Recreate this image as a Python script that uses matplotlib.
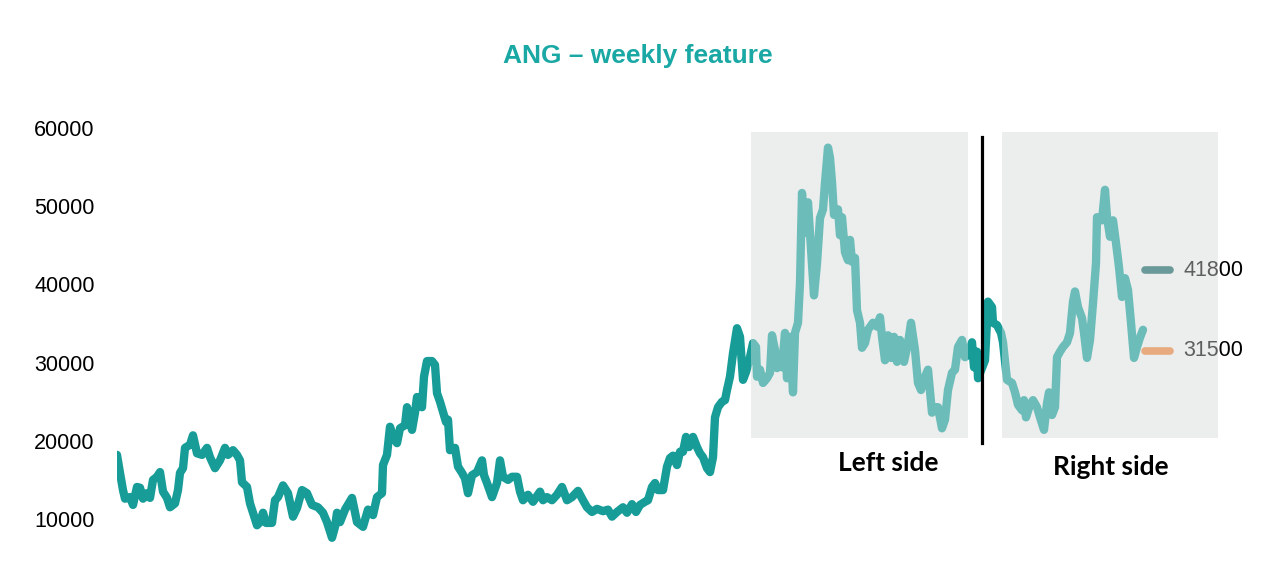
import matplotlib
matplotlib.use("Agg")
import matplotlib.pyplot as plt
from matplotlib.patches import Rectangle

# weekly series (week index, value)
weeks = [0, 3, 6, 8, 13, 16, 20, 23, 26, 30, 33, 36, 40, 43, 46, 50, 53, 58, 61, 63,
         66, 68, 73, 76, 80, 85, 90, 93, 98, 103, 108, 111, 116, 120, 123, 125, 130, 133, 136, 140,
         143, 146, 149, 155, 158, 161, 166, 171, 176, 180, 185, 190, 195, 201, 206, 210, 215, 218, 220, 223,
         228, 235, 240, 246, 251, 256, 260, 265, 266, 270, 273, 276, 280, 283, 288, 290, 295, 298, 300, 305,
         307, 310, 315, 318, 320, 323, 326, 329, 331, 333, 338, 341, 345, 348, 351, 355, 360, 365, 367, 370,
         375, 380, 383, 386, 391, 395, 400, 403, 406, 411, 416, 423, 426, 430, 435, 440, 445, 450, 455, 461,
         466, 470, 475, 480, 486, 491, 495, 500, 506, 510, 515, 519, 523, 528, 531, 535, 538, 541, 546, 550,
         553, 556, 560, 563, 566, 569, 572, 576, 580, 583, 586, 590, 593, 596, 598, 601, 605, 608, 610, 613,
         616, 620, 623, 626, 629, 633, 636, 639, 640, 643, 646, 650, 653, 655, 658, 660, 663, 665, 668, 670,
         673, 676, 678, 681, 683, 685, 688, 691, 695, 697, 700, 703, 706, 708, 711, 713, 715, 717, 721, 723,
         725, 728, 731, 733, 735, 738, 740, 743, 745, 748, 751, 756, 760, 763, 765, 768, 771, 774, 777, 780,
         783, 787, 791, 794, 798, 801, 804, 808, 811, 815, 818, 821, 825, 828, 831, 835, 838, 841, 845, 848,
         851, 855, 857, 860, 861, 865, 868, 871, 875, 876, 880, 884, 886, 890, 895, 898, 901, 905, 907, 909,
         913, 916, 920, 923, 927, 930, 932, 935, 938, 940, 943, 946, 950, 953, 956, 958, 961, 965, 967, 970,
         973, 976, 979, 980, 985, 988, 990, 993, 996, 999, 1002, 1005, 1008, 1011, 1014, 1017, 1020, 1023, 1026]
values = [18200, 15900, 13700, 12600, 12800, 11800, 14100, 14000, 12600, 13300, 12700, 15000, 15400, 16000, 13500, 12700, 11500, 12000, 13700, 15900,
          16500, 19100, 19500, 20700, 18400, 18200, 19100, 17900, 16500, 17500, 19100, 18200, 18800, 18200, 17500, 14700, 14100, 12000, 10800, 9200,
          9600, 10800, 9500, 9500, 12400, 12800, 14300, 13300, 10300, 11400, 13700, 13300, 11800, 11500, 10800, 9600, 7600, 9000, 10800, 9600,
          11200, 12700, 9600, 9000, 11200, 10500, 12800, 13300, 16900, 18200, 21800, 20500, 19700, 21600, 22000, 24300, 21400, 23600, 25600, 24300,
          28200, 30200, 30200, 29700, 26100, 25000, 23700, 22400, 22700, 18800, 19100, 16700, 15900, 15200, 13300, 15600, 16000, 17500, 15600, 14600,
          12800, 14600, 17500, 15400, 15000, 15400, 15400, 13500, 12400, 13100, 12200, 13500, 12400, 12800, 12400, 13100, 14100, 12400, 12800, 13600,
          12400, 11500, 10900, 11300, 11000, 11200, 10300, 10900, 11500, 10800, 11900, 10900, 11800, 12200, 12400, 14100, 14600, 13700, 13700, 16700,
          17800, 18100, 16900, 18600, 18600, 20500, 19200, 20500, 19200, 18400, 17900, 16500, 16000, 17900, 23000, 24300, 25000, 25200, 26500, 28200,
          31200, 34400, 33300, 27800, 28800, 30700, 32500, 32000, 28200, 29100, 27400, 28000, 28700, 33500, 31600, 29300, 30300, 29400, 33800, 28000,
          33300, 26200, 33800, 35100, 40200, 51700, 46600, 50500, 42700, 38600, 42700, 48500, 49600, 53000, 57500, 56200, 53100, 48900, 49600, 46300,
          48600, 44100, 43100, 45700, 42900, 43400, 36700, 35100, 31900, 32500, 34200, 35100, 34600, 35800, 33300, 30300, 33500, 30600, 33300, 30100,
          32900, 30100, 32500, 35100, 31600, 27400, 26500, 28200, 29100, 23600, 24300, 24300, 21600, 22700, 26500, 28700, 29100, 32000, 32900, 30700,
          31000, 32600, 29400, 31400, 28000, 29300, 30300, 37800, 37100, 35100, 34800, 33800, 32600, 27800, 27400, 26200, 24600, 23900, 25200, 23000,
          24600, 25200, 24300, 23000, 21400, 24800, 26200, 23300, 24300, 30700, 31400, 32000, 32600, 33800, 37800, 39100, 37100, 35700, 33800, 30600,
          32900, 37600, 42700, 48600, 48200, 52100, 48600, 46100, 48200, 45300, 42200, 38400, 40800, 39300, 35100, 30600, 32000, 33200, 34200]

y_ticks = [10000, 20000, 30000, 40000, 50000, 60000]

# reference levels shown on the right
level_values = [41800, 31500]
level_colors = ["#146262", "#e67d37"]

# highlighted windows (week ranges) and the split line
left_window = (634, 851)
right_window = (885, 1101)
split_week = 865
window_low, window_high = 20400, 59500

teal = "#179c98"
box_gray = "#eceeed"

fig = plt.figure(figsize=(12.8, 5.73), dpi=100)
ax = fig.add_axes([117 / 1280, 28 / 573, 1133 / 1280, 445 / 573])
ax.set_xlim(0, 1133)
ax.set_ylim(6675, 63590)

# gray windows behind the line
for w0, w1 in [left_window, right_window]:
    ax.add_patch(Rectangle((w0, window_low), w1 - w0, window_high - window_low,
                           facecolor=box_gray, edgecolor="none", zorder=0))

ax.plot(weeks, values, color=teal, lw=6, solid_joinstyle="round",
        solid_capstyle="round", zorder=2)

# level markers + labels
for v, c in zip(level_values, level_colors):
    ax.plot([1028, 1053], [v, v], color=c, lw=5.5, solid_capstyle="round", zorder=2)
    ax.text(1066, v, str(v), ha="left", va="center", fontsize=15.5,
            family="Liberation Sans", color="black", zorder=3)

# translucent gray on top, lightens whatever lies inside the windows
for w0, w1 in [left_window, right_window]:
    ax.add_patch(Rectangle((w0, window_low), w1 - w0, window_high - window_low,
                           facecolor=box_gray, edgecolor="none", alpha=0.4, zorder=5))

ax.plot([split_week, split_week], [19700, 58900], color="black", lw=2.3, zorder=6)

ax.text(771, 17160, "Left side", ha="center", va="center", fontsize=19,
        family="Lato", fontweight="bold", color="black")
ax.text(994, 16650, "Right side", ha="center", va="center", fontsize=19,
        family="Lato", fontweight="bold", color="black")

ax.set_yticks(y_ticks)
ax.set_yticklabels([str(t) for t in y_ticks], family="Liberation Sans", fontsize=15.5)
ax.tick_params(axis="y", length=0, pad=16)
ax.set_xticks([])
for s in ax.spines.values():
    s.set_visible(False)

fig.text(638 / 1280, 1 - 56 / 573, "ANG \u2013 weekly feature", ha="center", va="center",
         fontsize=19, fontweight="bold", color="#1aa8a5", family="Liberation Sans")

fig.savefig("out.png", dpi=100)
